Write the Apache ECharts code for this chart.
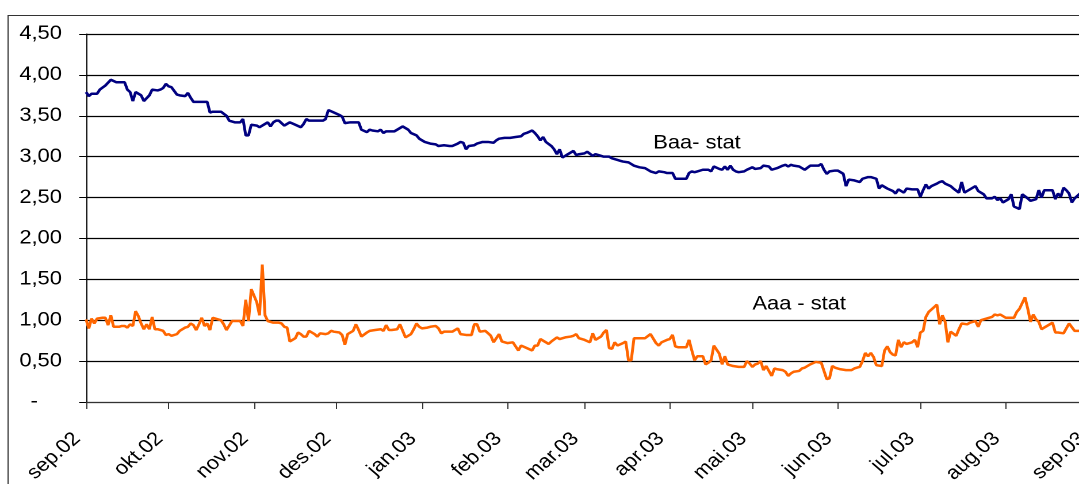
<!DOCTYPE html>
<html>
<head>
<meta charset="utf-8">
<script src="https://cdn.jsdelivr.net/npm/echarts@6/dist/echarts.min.js"></script>
<style>
  html, body { margin: 0; padding: 0; background: #fff; overflow: hidden; }
  /* the chart is laid out narrower and widened to the full 1079px page width */
  #chart { width: 938px; height: 484px; transform: scaleX(1.15032); transform-origin: 0 0; }
</style>
</head>
<body>
<div id="chart"></div>
<script>
// Month boundaries, in days after 1 Sep 2002, and their labels
const monthStart = [0, 30, 61, 91, 122, 153, 181, 212, 242, 273, 303, 334, 365];
const monthLabels = ['sep.02', 'okt.02', 'nov.02', 'des.02', 'jan.03', 'feb.03', 'mar.03',
                     'apr.03', 'mai.03', 'jun.03', 'jul.03', 'aug.03', 'sep.03'];

// Baa series: day offset and value
const baaDay = [0, 1, 2, 4, 5, 7, 9, 11, 13, 14, 15, 16, 17, 18, 20, 21, 23, 24, 26, 27,
  28, 29, 30, 31, 33, 34, 36, 37, 38, 39, 41, 43, 44, 45, 46, 49, 51, 52, 54, 56,
  57, 58, 59, 60, 62, 63, 65, 66, 67, 68, 69, 70, 72, 73, 74, 76, 78, 79, 80, 81,
  83, 85, 86, 87, 88, 90, 92, 93, 94, 96, 98, 99, 100, 102, 103, 104, 106, 107, 108, 109,
  111, 112, 114, 115, 117, 118, 120, 121, 123, 125, 127, 128, 130, 132, 133, 135, 136, 137, 138, 139,
  141, 142, 144, 146, 148, 149, 150, 152, 154, 156, 158, 159, 160, 162, 163, 164, 165, 166, 167, 169,
  170, 171, 172, 173, 174, 175, 177, 178, 179, 181, 182, 184, 185, 187, 188, 190, 191, 193, 194, 195,
  197, 198, 199, 201, 203, 204, 205, 207, 208, 210, 211, 213, 214, 216, 218, 219, 220, 221, 222, 224,
  226, 227, 228, 230, 231, 232, 233, 234, 235, 236, 237, 239, 240, 242, 243, 245, 246, 248, 249, 251,
  253, 254, 255, 256, 257, 259, 260, 261, 263, 265, 266, 267, 268, 269, 270, 272, 273, 275, 276, 277,
  279, 281, 282, 284, 285, 287, 288, 289, 291, 293, 294, 295, 297, 298, 300, 302, 303, 304, 305, 306,
  307, 309, 310, 311, 312, 314, 315, 317, 318, 319, 321, 323, 324, 326, 327, 329, 330, 331, 332, 333,
  335, 336, 337, 339, 340, 342, 343, 345, 346, 347, 348, 349, 351, 352, 353, 354, 355, 356, 357, 358,
  359, 361, 362];
const baaValue = [3.79, 3.74, 3.77, 3.77, 3.82, 3.87, 3.94, 3.91, 3.91, 3.91, 3.82, 3.79, 3.68, 3.79, 3.75, 3.68, 3.75, 3.82, 3.81, 3.82,
  3.84, 3.89, 3.86, 3.85, 3.76, 3.75, 3.74, 3.78, 3.72, 3.67, 3.67, 3.67, 3.67, 3.54, 3.55, 3.55, 3.50, 3.44, 3.42, 3.42,
  3.46, 3.26, 3.26, 3.39, 3.38, 3.36, 3.40, 3.42, 3.37, 3.42, 3.44, 3.44, 3.38, 3.40, 3.42, 3.39, 3.36, 3.40, 3.46, 3.44,
  3.44, 3.44, 3.44, 3.46, 3.57, 3.54, 3.51, 3.49, 3.41, 3.42, 3.42, 3.42, 3.33, 3.30, 3.33, 3.32, 3.31, 3.33, 3.29, 3.31,
  3.31, 3.31, 3.35, 3.37, 3.33, 3.29, 3.26, 3.22, 3.18, 3.16, 3.15, 3.13, 3.14, 3.13, 3.13, 3.16, 3.18, 3.17, 3.09, 3.13,
  3.14, 3.16, 3.18, 3.18, 3.17, 3.20, 3.22, 3.23, 3.23, 3.24, 3.25, 3.28, 3.29, 3.32, 3.29, 3.25, 3.20, 3.24, 3.18, 3.13,
  3.09, 3.03, 3.09, 2.99, 3.01, 3.03, 3.07, 3.02, 3.03, 3.04, 3.06, 3.01, 3.03, 3.01, 3.00, 3.00, 2.98, 2.96, 2.95, 2.94,
  2.93, 2.91, 2.89, 2.87, 2.86, 2.84, 2.82, 2.80, 2.82, 2.81, 2.80, 2.80, 2.73, 2.73, 2.73, 2.80, 2.82, 2.81, 2.82, 2.84,
  2.84, 2.82, 2.88, 2.85, 2.84, 2.88, 2.84, 2.89, 2.84, 2.82, 2.81, 2.82, 2.84, 2.87, 2.85, 2.86, 2.89, 2.88, 2.84, 2.86,
  2.89, 2.90, 2.88, 2.90, 2.89, 2.88, 2.86, 2.84, 2.89, 2.89, 2.89, 2.91, 2.84, 2.79, 2.82, 2.83, 2.83, 2.79, 2.64, 2.72,
  2.71, 2.69, 2.73, 2.75, 2.75, 2.73, 2.61, 2.65, 2.61, 2.58, 2.55, 2.60, 2.56, 2.61, 2.60, 2.60, 2.51, 2.59, 2.66, 2.61,
  2.64, 2.67, 2.69, 2.70, 2.67, 2.64, 2.61, 2.56, 2.69, 2.56, 2.60, 2.64, 2.58, 2.54, 2.49, 2.49, 2.51, 2.47, 2.49, 2.44,
  2.48, 2.54, 2.39, 2.36, 2.54, 2.49, 2.46, 2.48, 2.59, 2.50, 2.59, 2.59, 2.59, 2.48, 2.55, 2.51, 2.62, 2.59, 2.55, 2.44,
  2.49, 2.55, 2.56];

// Aaa series: day offset and value
const aaaDay = [0, 1, 2, 3, 4, 6, 7, 8, 9, 10, 12, 13, 14, 15, 16, 17, 18, 19, 20, 21,
  22, 23, 24, 25, 26, 28, 29, 30, 31, 33, 34, 36, 37, 38, 39, 40, 41, 42, 43, 44,
  45, 46, 48, 49, 50, 51, 53, 55, 56, 57, 58, 59, 60, 62, 63, 64, 65, 66, 68, 70,
  71, 72, 73, 74, 76, 77, 78, 79, 80, 81, 83, 84, 85, 87, 88, 89, 90, 92, 93, 94,
  95, 97, 98, 99, 100, 102, 103, 105, 107, 108, 109, 110, 111, 113, 114, 115, 116, 118, 119, 120,
  121, 122, 124, 125, 127, 128, 129, 130, 132, 133, 135, 136, 138, 140, 141, 142, 143, 145, 146, 147,
  148, 150, 151, 153, 155, 156, 157, 158, 160, 162, 163, 164, 165, 167, 168, 169, 171, 172, 174, 176,
  177, 178, 179, 181, 183, 184, 185, 187, 188, 189, 190, 191, 192, 193, 195, 196, 197, 198, 199, 201,
  203, 205, 207, 208, 209, 211, 212, 213, 214, 215, 217, 218, 219, 220, 221, 222, 223, 224, 225, 226,
  227, 228, 230, 231, 232, 233, 235, 237, 239, 240, 241, 242, 243, 244, 245, 246, 247, 249, 250, 251,
  253, 254, 255, 256, 257, 259, 260, 261, 262, 263, 265, 267, 269, 270, 271, 272, 274, 276, 278, 279,
  281, 282, 283, 284, 285, 286, 287, 289, 290, 291, 292, 293, 294, 295, 296, 297, 298, 300, 301, 302,
  303, 304, 305, 306, 308, 309, 310, 311, 312, 313, 314, 316, 317, 318, 320, 321, 323, 324, 325, 327,
  329, 330, 331, 332, 334, 335, 337, 338, 339, 341, 342, 343, 344, 345, 346, 347, 349, 351, 352, 353,
  355, 356, 357, 359, 360, 361, 362];
const aaaValue = [1.01, 0.90, 1.02, 0.96, 1.02, 1.03, 1.03, 0.94, 1.06, 0.92, 0.92, 0.93, 0.93, 0.91, 0.95, 0.93, 1.11, 1.05, 0.96, 0.89,
  0.95, 0.89, 1.04, 0.89, 0.89, 0.87, 0.82, 0.83, 0.81, 0.83, 0.87, 0.91, 0.92, 0.96, 0.94, 0.88, 0.95, 1.03, 0.93, 0.96,
  0.88, 1.03, 1.01, 1.00, 0.95, 0.88, 0.99, 0.99, 0.99, 0.93, 1.25, 0.99, 1.38, 1.22, 1.06, 1.68, 1.06, 0.99, 0.97, 0.97,
  0.96, 0.92, 0.91, 0.74, 0.78, 0.85, 0.83, 0.80, 0.80, 0.87, 0.83, 0.80, 0.84, 0.83, 0.84, 0.87, 0.86, 0.85, 0.82, 0.70,
  0.83, 0.87, 0.95, 0.88, 0.80, 0.85, 0.87, 0.88, 0.89, 0.87, 0.94, 0.88, 0.88, 0.89, 0.95, 0.87, 0.79, 0.83, 0.89, 0.96,
  0.92, 0.90, 0.91, 0.92, 0.93, 0.90, 0.84, 0.86, 0.86, 0.86, 0.90, 0.83, 0.82, 0.82, 0.95, 0.95, 0.86, 0.87, 0.84, 0.81,
  0.73, 0.83, 0.74, 0.72, 0.73, 0.68, 0.63, 0.69, 0.66, 0.63, 0.69, 0.69, 0.77, 0.73, 0.71, 0.74, 0.79, 0.77, 0.79, 0.80,
  0.81, 0.83, 0.78, 0.76, 0.73, 0.84, 0.76, 0.80, 0.85, 0.88, 0.66, 0.65, 0.73, 0.69, 0.72, 0.74, 0.51, 0.51, 0.78, 0.78,
  0.78, 0.83, 0.72, 0.69, 0.73, 0.76, 0.77, 0.82, 0.68, 0.67, 0.67, 0.67, 0.76, 0.63, 0.51, 0.56, 0.56, 0.56, 0.46, 0.48,
  0.51, 0.69, 0.59, 0.46, 0.56, 0.46, 0.44, 0.43, 0.43, 0.50, 0.47, 0.43, 0.46, 0.47, 0.50, 0.39, 0.44, 0.32, 0.41, 0.40,
  0.39, 0.37, 0.32, 0.35, 0.37, 0.38, 0.41, 0.42, 0.44, 0.46, 0.49, 0.48, 0.28, 0.29, 0.44, 0.42, 0.40, 0.39, 0.39, 0.41,
  0.43, 0.50, 0.60, 0.56, 0.60, 0.55, 0.45, 0.44, 0.63, 0.68, 0.61, 0.58, 0.57, 0.76, 0.67, 0.73, 0.71, 0.73, 0.76, 0.67,
  0.85, 0.87, 1.04, 1.10, 1.16, 1.19, 0.95, 1.06, 0.98, 0.73, 0.86, 0.81, 0.89, 0.96, 0.95, 0.97, 0.99, 0.92, 1.00, 1.02,
  1.04, 1.07, 1.06, 1.07, 1.03, 1.03, 1.03, 1.10, 1.14, 1.28, 1.14, 0.98, 1.07, 1.01, 0.98, 0.89, 0.93, 0.97, 0.85, 0.85,
  0.84, 0.90, 0.96, 0.87, 0.87, 0.87, 0.87];

function pairs(days, values) {
  return days.map((d, i) => [d, values[i]]);
}

const FONT = 'Arial, "Liberation Sans", sans-serif';
const FONT_SIZE = 19;
const chart = echarts.init(document.getElementById('chart'), null, {
  renderer: 'canvas',
  devicePixelRatio: 2
});

chart.setOption({
  animation: false,
  backgroundColor: '#ffffff',
  textStyle: { fontFamily: FONT },
  graphic: [{
    type: 'rect',
    z: -1,
    silent: true,
    shape: { x: 7, y: 15.5, width: 1200, height: 600 },
    style: { fill: 'none', stroke: '#333', lineWidth: 1 }
  }],
  grid: {
    left: 74.8, top: 34, right: -10.5, bottom: 82,
    containLabel: false,
    outerBoundsMode: 'none'
  },
  xAxis: {
    type: 'value',
    min: 0,
    max: 365,
    splitLine: { show: false },
    axisLine: { show: true, lineStyle: { color: '#333', width: 1 } },
    axisTick: {
      show: true, length: 7, inside: false,
      customValues: monthStart,
      lineStyle: { color: '#333', width: 1 }
    },
    axisLabel: {
      customValues: monthStart,
      rotate: 45,
      margin: 26,
      padding: [0, 11, 0, 0],
      fontSize: FONT_SIZE,
      color: '#000',
      fontFamily: FONT,
      formatter: v => monthLabels[monthStart.indexOf(v)] || ''
    }
  },
  yAxis: {
    type: 'value',
    min: 0,
    max: 4.5,
    interval: 0.5,
    axisLine: { show: true, lineStyle: { color: '#000', width: 1 } },
    axisTick: { show: true, length: 6, lineStyle: { color: '#000', width: 1 } },
    splitLine: { show: true, lineStyle: { color: '#000', width: 1.2 } },
    axisLabel: {
      margin: 21,
      fontSize: FONT_SIZE,
      color: '#000',
      fontFamily: FONT,
      formatter: v => v === 0 ? '{dash|-}' : v.toFixed(2).replace('.', ','),
      rich: {
        dash: { fontSize: FONT_SIZE, fontFamily: FONT, color: '#000', padding: [0, 21, 0, 0] }
      }
    }
  },
  series: [
    {
      name: 'Baa- stat',
      type: 'line',
      data: pairs(baaDay, baaValue),
      showSymbol: false,
      symbol: 'none',
      lineStyle: { color: '#000080', width: 2.5 },
      itemStyle: { color: '#000080' },
      markPoint: {
        symbol: 'circle',
        symbolSize: 0,
        silent: true,
        data: [{ coord: [206, 3.166] }],
        label: {
          show: true, position: 'right', distance: 0,
          formatter: 'Baa- stat', fontSize: FONT_SIZE, color: '#000', fontFamily: FONT
        }
      }
    },
    {
      name: 'Aaa - stat',
      type: 'line',
      data: pairs(aaaDay, aaaValue),
      showSymbol: false,
      symbol: 'none',
      lineStyle: { color: '#FF6600', width: 2.5 },
      itemStyle: { color: '#FF6600' },
      markPoint: {
        symbol: 'circle',
        symbolSize: 0,
        silent: true,
        data: [{ coord: [242, 1.196] }],
        label: {
          show: true, position: 'right', distance: 0,
          formatter: 'Aaa - stat', fontSize: FONT_SIZE, color: '#000', fontFamily: FONT
        }
      }
    }
  ]
});
</script>
</body>
</html>
